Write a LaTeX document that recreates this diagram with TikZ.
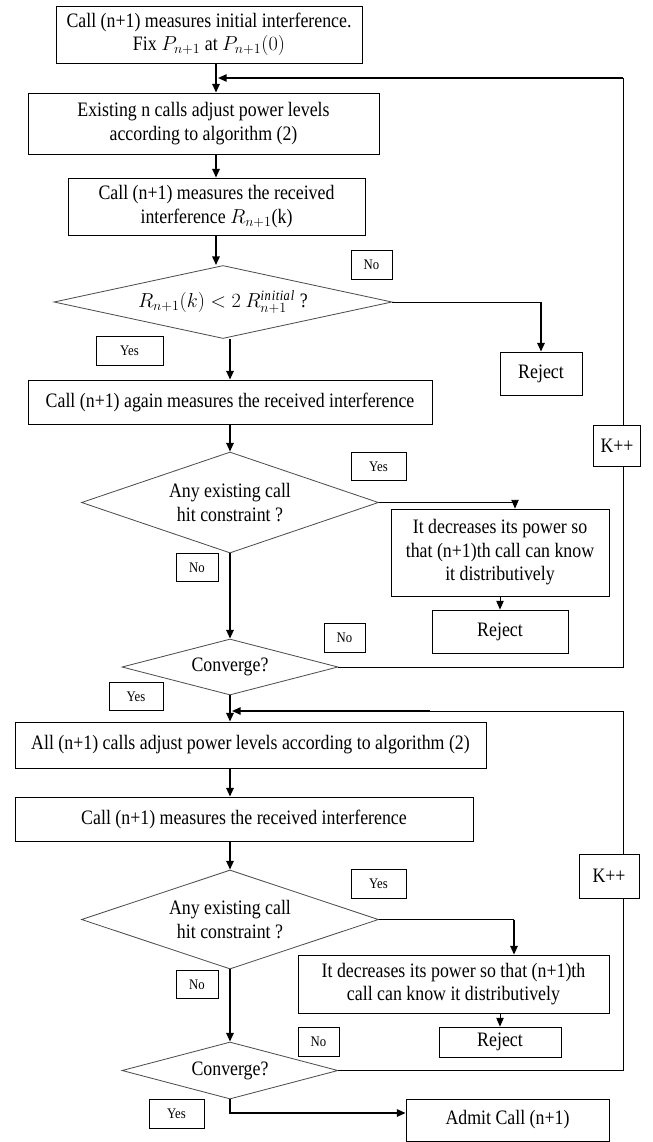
\documentclass[tikz,border=0pt]{standalone}
\usepackage{fontspec}
\setmainfont[FakeStretch=0.87]{Liberation Serif}
\usetikzlibrary{shapes.geometric,arrows.meta}

\tikzset{
  box/.style={draw, line width=0.7pt, align=center, inner sep=1pt, font=\fontsize{17.5}{20}\selectfont},
  decide/.style={diamond, draw=black!70, line width=0.7pt, align=center, inner sep=0pt, aspect=3, font=\fontsize{17.5}{20}\selectfont},
  tag/.style={draw, line width=0.6pt, inner sep=0pt, minimum height=0.86cm, font=\fontsize{12.5}{14}\selectfont},
  flow/.style={line width=1.4pt, -{Triangle[length=2.6mm,width=2.2mm]}},
  flowthin/.style={line width=0.7pt, -{Triangle[length=2.6mm,width=2.2mm]}},
  link/.style={line width=0.7pt},
}

\begin{document}
\begin{tikzpicture}[x=0.03cm,y=-0.03cm]
		%%%%% START %%%%%
		\useasboundingbox (0,0) rectangle (653,1142);
		
		\coordinate (colA) at (216,0);
		\coordinate (colB) at (230,0);
		
		% first phase
		\node[box, minimum width=9.18cm, minimum height=1.71cm] (init) at (209,34.5) {Call (n+1) measures initial interference.\\ Fix $P_{n+1}$ at $P_{n+1}(0)$};
		\node[box, minimum width=10.53cm, minimum height=1.83cm] (adjn) at (203.5,123.5) {Existing n calls adjust power levels\\ according to algorithm (2)};
		\node[box, minimum width=8.91cm, minimum height=1.71cm] (meas) at (216.5,206.5) {Call (n+1) measures the received\\ interference $R_{n+1}$(k)};
		\node[decide, aspect=4, minimum width=10.14cm, minimum height=2.19cm] (ratio) at (223,302) {$R_{n+1}(k) < 2\ R_{n+1}^{\mathit{initial}}$ ?};
		\node[box, minimum width=2.46cm, minimum height=1.29cm] (rej1) at (541,373.5) {Reject};
		\node[box, minimum width=12.12cm, minimum height=1.32cm] (again) at (230,402) {Call (n+1) again measures the received interference};
		\node[decide, minimum width=8.91cm, minimum height=3.03cm] (hit1) at (230,502.5) {Any existing call\\ hit constraint ?};
		\node[box, minimum width=6.54cm, minimum height=2.61cm] (decr1) at (500,552.5) {It decreases its power so\\ that (n+1)th call can know\\ it distributively};
		\node[box, minimum width=4.08cm, minimum height=1.29cm] (rej2) at (500,631.5) {Reject};
		\node[decide, aspect=4, minimum width=6.48cm, minimum height=1.68cm] (conv1) at (230,667) {Converge?};
		\node[box, minimum width=1.4cm, minimum height=1.23cm] (k1) at (617,445.5) {K++};
		
		\node[tag, minimum width=1.23cm] (no1) at (371.5,265) {No};
		\node[tag, minimum width=2.01cm] (yes1) at (129.5,351) {Yes};
		\node[tag, minimum width=1.65cm] (yes2) at (378.5,466.5) {Yes};
		\node[tag, minimum width=1.26cm] (no2) at (197,567.5) {No};
		\node[tag, minimum width=1.23cm] (no3) at (344.5,638) {No};
		\node[tag, minimum width=1.62cm] (yes3) at (136,696.5) {Yes};
		
		% second phase
		\node[box, minimum width=14.13cm, minimum height=1.38cm] (alln) at (250.5,745) {All (n+1) calls adjust power levels according to algorithm (2)};
		\node[box, minimum width=13.74cm, minimum height=1.32cm] (meas2) at (244,819) {Call (n+1) measures the received interference};
		\node[decide, minimum width=8.91cm, minimum height=2.97cm] (hit2) at (230,919.5) {Any existing call\\ hit constraint ?};
		\node[box, minimum width=9.33cm, minimum height=1.74cm] (decr2) at (453.5,984) {It decreases its power so that (n+1)th\\ call can know it distributively};
		\node[box, minimum width=3.66cm, minimum height=0.9cm] (rej3) at (500,1042) {Reject};
		\node[decide, aspect=4, minimum width=6.48cm, minimum height=1.71cm] (conv2) at (230,1070.5) {Converge?};
		\node[box, minimum width=6.09cm, minimum height=1.26cm] (admit) at (507.5,1120) {Admit Call (n+1)};
		\node[box, minimum width=1.8cm, minimum height=1.32cm] (k2) at (609,876) {K++};
		
		\node[tag, minimum width=1.65cm] (yes4) at (378.5,884) {Yes};
		\node[tag, minimum width=1.26cm] (no4) at (197,984.5) {No};
		\node[tag, minimum width=1.23cm] (no5) at (318.5,1042) {No};
		\node[tag, minimum width=1.65cm] (yes5) at (176.5,1114) {Yes};
		
		% loop corners
		\coordinate (r1) at (623,78);
		\coordinate (j1) at (218,78);
		\coordinate (r2) at (623,667);
		\coordinate (r3) at (623,711);
		\coordinate (m3) at (430,711);
		\coordinate (j3) at (232,711);
		\coordinate (r4) at (623,1070.5);
		\coordinate (b2) at (515,502.5);
		\coordinate (b3) at (514,919.5);
		\coordinate (b4) at (230,1113);
		
		% main column
		\draw[flow] (init.south -| colA) -- (adjn.north -| colA);
		\draw[flow] (adjn.south -| colA) -- (meas.north -| colA);
		\draw[flow] (meas.south -| colA) -- (ratio.north -| colA);
		\draw[flow] (ratio.south -| colB) -- (again.north -| colB);
		\draw[flow] (again.south -| colB) -- (hit1.north);
		\draw[flow] (hit1.south) -- (conv1.north);
		\draw[flow] (conv1.south) -- (alln.north -| colB);
		\draw[flow] (alln.south -| colB) -- (meas2.north -| colB);
		\draw[flow] (meas2.south -| colB) -- (hit2.north);
		\draw[flow] (hit2.south) -- (conv2.north);
		\draw[flow] (conv2.south) -- (b4) -- (b4 -| admit.west);
		
		% side branches
		\draw[link] (ratio.east) -- (ratio.east -| rej1);
		\draw[flow] (ratio.east -| rej1) -- (rej1.north);
		\draw[link] (hit1.east) -- (b2);
		\draw[flowthin] (b2) -- (b2 |- decr1.north);
		\draw[flowthin] (decr1.south) -- (rej2.north);
		\draw[link] (hit2.east) -- (b3);
		\draw[flow] (b3) -- (b3 |- decr2.north);
		\draw[flowthin] (decr2.south -| rej3.north) -- (rej3.north);
		
		% feedback loops
		\draw[link] (conv1.east) -- (r2) -- (k1.south -| r2);
		\draw[link] (k1.north -| r1) -- (r1);
		\draw[flow] (r1) -- (j1);
		\draw[link] (conv2.east) -- (r4) -- (k2.south -| r4);
		\draw[link] (k2.north -| r3) -- (r3) -- (m3);
		\draw[flow] (m3) -- (j3);
		%%%%% END %%%%%
\end{tikzpicture}
\end{document}
